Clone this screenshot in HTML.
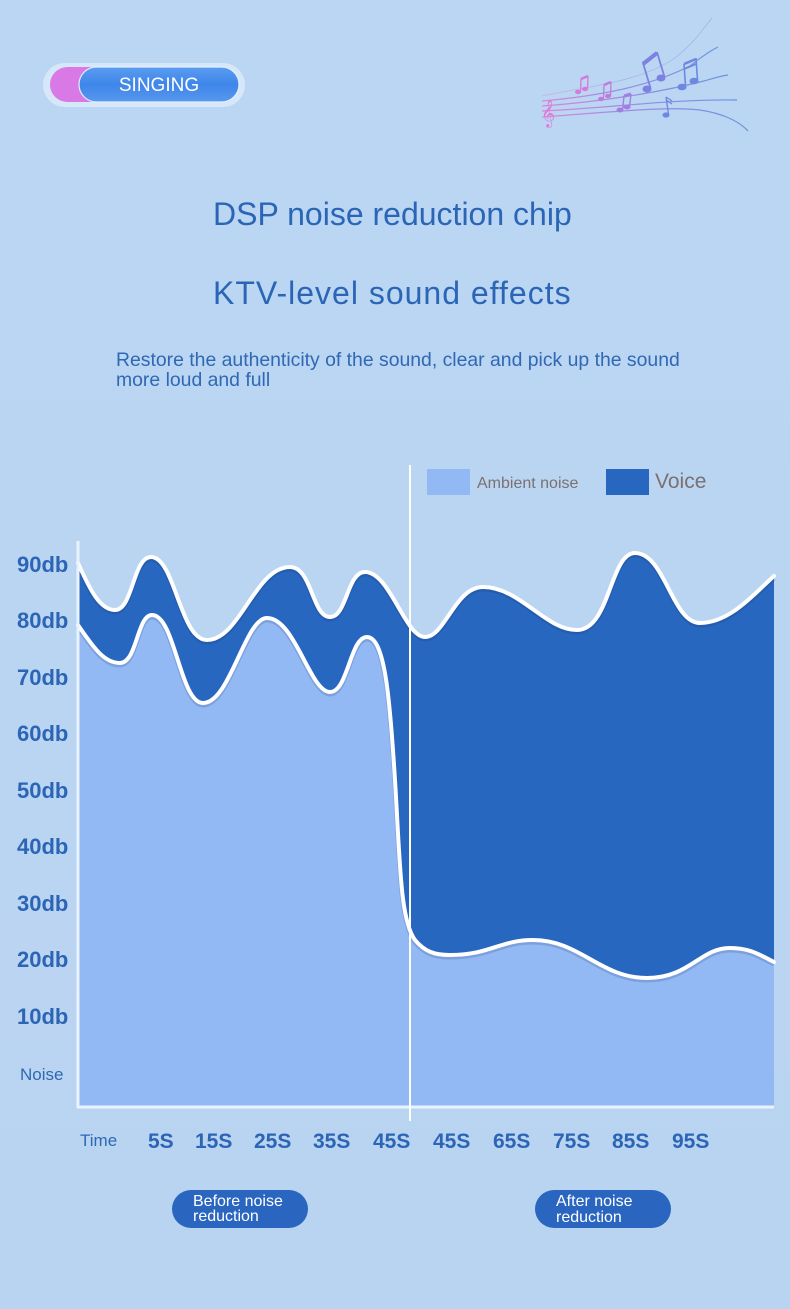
<!DOCTYPE html>
<html>
<head>
<meta charset="utf-8">
<style>
html,body{margin:0;padding:0;}
body{width:790px;height:1309px;background:#bad5f1;overflow:hidden;}
svg{display:block;}
text{font-family:"Liberation Sans",sans-serif;}
</style>
</head>
<body>
<svg width="790" height="1309" viewBox="0 0 790 1309" xmlns="http://www.w3.org/2000/svg">
  <defs>
    <linearGradient id="bg" x1="0" y1="0" x2="0" y2="1">
      <stop offset="0" stop-color="#bbd6f2"/>
      <stop offset="1" stop-color="#b9d4f1"/>
    </linearGradient>
    <linearGradient id="pillBlue" x1="0" y1="0" x2="0" y2="1">
      <stop offset="0" stop-color="#5a9cf0"/>
      <stop offset="0.5" stop-color="#3f86ea"/>
      <stop offset="1" stop-color="#5797ee"/>
    </linearGradient>
    <linearGradient id="music" x1="0" y1="0" x2="1" y2="0">
      <stop offset="0" stop-color="#e07ad8"/>
      <stop offset="0.45" stop-color="#9a7ee0"/>
      <stop offset="1" stop-color="#5d86dc"/>
    </linearGradient>
  </defs>

  <rect x="0" y="0" width="790" height="1309" fill="url(#bg)"/>

  <!-- SINGING pill -->
  <rect x="43" y="63" width="202" height="44" rx="22" fill="#d6e7f9"/>
  <rect x="50" y="67" width="70" height="35" rx="17.5" fill="#d979e6"/>
  <rect x="79" y="67" width="160" height="35" rx="17.5" fill="url(#pillBlue)" stroke="#e3efff" stroke-width="1.2"/>
  <text x="159" y="91" font-size="19" fill="#ffffff" text-anchor="middle">SINGING</text>

  <!-- music decoration -->
  <g fill="none" stroke="url(#music)" stroke-width="1.2" opacity="0.85">
    <path d="M542,96 C590,86 640,82 675,58 C695,42 702,30 712,18" stroke-width="0.7" opacity="0.5"/>
    <path d="M542,101 C600,96 650,86 690,66 C700,58 708,52 718,47"/>
    <path d="M542,106 C600,102 660,92 700,82 C712,79 720,76 728,75"/>
    <path d="M542,111 C610,108 670,99 737,100"/>
    <path d="M542,117 C610,112 670,106 700,110 C720,113 738,120 748,131"/>
  </g>
  <text x="541" y="121" font-size="24" fill="#e07ad8" font-family="DejaVu Sans, sans-serif">&#x1D11E;</text>
  <!-- pink small notes -->
  <g fill="#d47ad9" stroke="#d47ad9">
    <ellipse cx="578" cy="92" rx="3" ry="2.2" stroke="none"/>
    <ellipse cx="585" cy="89" rx="3" ry="2.2" stroke="none"/>
    <line x1="580.5" y1="92" x2="581" y2="79" stroke-width="1.3"/>
    <line x1="587.5" y1="89" x2="588" y2="76" stroke-width="1.3"/>
    <line x1="581" y1="79" x2="588" y2="76" stroke-width="2.5"/>
  </g>
  <g fill="#bf7cdc" stroke="#bf7cdc">
    <ellipse cx="601" cy="99" rx="3" ry="2.2" stroke="none"/>
    <ellipse cx="608" cy="96" rx="3" ry="2.2" stroke="none"/>
    <line x1="603.5" y1="99" x2="604" y2="85" stroke-width="1.3"/>
    <line x1="610.5" y1="96" x2="611" y2="82" stroke-width="1.3"/>
    <line x1="604" y1="85" x2="611" y2="82" stroke-width="2.5"/>
  </g>
  <g fill="#a07fe0" stroke="#a07fe0">
    <ellipse cx="620" cy="110" rx="3.5" ry="2.5" stroke="none"/>
    <ellipse cx="627" cy="107" rx="3.5" ry="2.5" stroke="none"/>
    <line x1="622.5" y1="110" x2="624" y2="96" stroke-width="1.4"/>
    <line x1="629.5" y1="107" x2="631" y2="94" stroke-width="1.4"/>
    <line x1="624" y1="96" x2="631" y2="94" stroke-width="3"/>
  </g>
  <!-- big notes -->
  <g fill="#7d82e2" stroke="#7d82e2">
    <ellipse cx="647" cy="89" rx="4.5" ry="3.5" stroke="none"/>
    <ellipse cx="661" cy="78" rx="4.5" ry="3.5" stroke="none"/>
    <line x1="650.5" y1="88" x2="643" y2="63" stroke-width="1.8"/>
    <line x1="664.5" y1="77" x2="657" y2="52" stroke-width="1.8"/>
    <line x1="643" y1="64" x2="657" y2="53" stroke-width="4"/>
  </g>
  <g fill="#6c88e0" stroke="#6c88e0">
    <ellipse cx="682" cy="87" rx="4.5" ry="3.3" stroke="none"/>
    <ellipse cx="694" cy="81" rx="4.5" ry="3.3" stroke="none"/>
    <line x1="685.5" y1="86" x2="684" y2="64" stroke-width="1.6"/>
    <line x1="697.5" y1="80" x2="696" y2="58" stroke-width="1.6"/>
    <line x1="684" y1="64" x2="696" y2="59" stroke-width="2.5"/>
    <line x1="684" y1="69" x2="696" y2="64" stroke-width="2"/>
    <ellipse cx="666" cy="115" rx="3.5" ry="2.6" stroke="none"/>
    <line x1="668.5" y1="114" x2="666" y2="97" stroke-width="1.3"/>
    <path d="M666,97 L672,101 M666,100 L672,104" stroke-width="1.3" fill="none"/>
  </g>

  <!-- Titles -->
  <text x="213" y="225" font-size="32" fill="#2b66b6">DSP noise reduction chip</text>
  <text x="213" y="304" font-size="32" fill="#2b66b6" letter-spacing="1">KTV-level sound effects</text>
  <text x="116" y="366" font-size="19.4" fill="#2f68b4">Restore the authenticity of the sound, clear and pick up the sound</text>
  <text x="116" y="386" font-size="19.4" fill="#2f68b4">more loud and full</text>

  <!-- Legend -->
  <rect x="427" y="469" width="43" height="26" fill="#92b9f3"/>
  <text x="477" y="488" font-size="16" fill="#7c7070">Ambient noise</text>
  <rect x="606" y="469" width="43" height="26" fill="#2867bf"/>
  <text x="655" y="488" font-size="21" fill="#7c7070">Voice</text>

  <!-- Chart fills -->
  <path d="M78,563 C90,590 100,610 115,610 C133,610 133,557 151,557 C175,557 180,640 207,640 C240,640 255,567 290,567 C312,567 312,617 330,617 C347,617 347,572 365,572 C390,572 405,637 425,637 C445,637 455,587 483,587 C520,587 545,630 577,630 C610,630 610,553 635,553 C665,553 672,623 700,623 C730,623 755,593 774,576 L774,1107 L78,1107 Z" fill="#2867bf"/>
  <path d="M78,625 C95,650 105,663 120,663 C137,663 137,615 152,615 C175,615 180,703 203,703 C230,703 245,618 267,618 C295,618 310,692 330,692 C348,692 350,637 367,637 C385,637 390,700 395,780 C400,860 400,920 415,940 C425,952 435,955 450,955 C490,955 500,940 533,940 C580,940 600,978 647,978 C690,978 700,948 730,948 C750,948 760,955 774,962 L774,1107 L78,1107 Z" fill="#92b9f3"/>

  <!-- curve shadows -->
  <g fill="none" stroke="rgba(20,50,110,0.18)" stroke-width="5" transform="translate(0,2)">
    <path d="M78,563 C90,590 100,610 115,610 C133,610 133,557 151,557 C175,557 180,640 207,640 C240,640 255,567 290,567 C312,567 312,617 330,617 C347,617 347,572 365,572 C390,572 405,637 425,637 C445,637 455,587 483,587 C520,587 545,630 577,630 C610,630 610,553 635,553 C665,553 672,623 700,623 C730,623 755,593 774,576"/>
    <path d="M78,625 C95,650 105,663 120,663 C137,663 137,615 152,615 C175,615 180,703 203,703 C230,703 245,618 267,618 C295,618 310,692 330,692 C348,692 350,637 367,637 C385,637 390,700 395,780 C400,860 400,920 415,940 C425,952 435,955 450,955 C490,955 500,940 533,940 C580,940 600,978 647,978 C690,978 700,948 730,948 C750,948 760,955 774,962"/>
  </g>
  <!-- white curves -->
  <g fill="none" stroke="#ffffff" stroke-width="4" stroke-linecap="round">
    <path d="M78,563 C90,590 100,610 115,610 C133,610 133,557 151,557 C175,557 180,640 207,640 C240,640 255,567 290,567 C312,567 312,617 330,617 C347,617 347,572 365,572 C390,572 405,637 425,637 C445,637 455,587 483,587 C520,587 545,630 577,630 C610,630 610,553 635,553 C665,553 672,623 700,623 C730,623 755,593 774,576"/>
    <path d="M78,625 C95,650 105,663 120,663 C137,663 137,615 152,615 C175,615 180,703 203,703 C230,703 245,618 267,618 C295,618 310,692 330,692 C348,692 350,637 367,637 C385,637 390,700 395,780 C400,860 400,920 415,940 C425,952 435,955 450,955 C490,955 500,940 533,940 C580,940 600,978 647,978 C690,978 700,948 730,948 C750,948 760,955 774,962"/>
  </g>

  <!-- axes -->
  <line x1="78" y1="541" x2="78" y2="1108" stroke="#eaf3fd" stroke-width="3"/>
  <line x1="77" y1="1107" x2="774" y2="1107" stroke="#eaf3fd" stroke-width="3"/>
  <line x1="410" y1="465" x2="410" y2="1121" stroke="#ffffff" stroke-width="2"/>

  <!-- Y labels -->
  <g font-size="22" font-weight="bold" fill="#2c64b6">
    <text x="17" y="572">90db</text>
    <text x="17" y="628">80db</text>
    <text x="17" y="685">70db</text>
    <text x="17" y="741">60db</text>
    <text x="17" y="798">50db</text>
    <text x="17" y="854">40db</text>
    <text x="17" y="911">30db</text>
    <text x="17" y="967">20db</text>
    <text x="17" y="1024">10db</text>
  </g>
  <text x="20" y="1080" font-size="17" fill="#2f68b4">Noise</text>

  <!-- X labels -->
  <text x="80" y="1146" font-size="17" fill="#2f68b4">Time</text>
  <g font-size="21" font-weight="bold" fill="#2c64b6">
    <text x="148" y="1148">5S</text>
    <text x="195" y="1148">15S</text>
    <text x="254" y="1148">25S</text>
    <text x="313" y="1148">35S</text>
    <text x="373" y="1148">45S</text>
    <text x="433" y="1148">45S</text>
    <text x="493" y="1148">65S</text>
    <text x="553" y="1148">75S</text>
    <text x="612" y="1148">85S</text>
    <text x="672" y="1148">95S</text>
  </g>

  <!-- buttons -->
  <rect x="172" y="1190" width="136" height="38" rx="19" fill="#2a66c0"/>
  <text x="193" y="1206" font-size="16" fill="#ffffff">Before noise</text>
  <text x="193" y="1221" font-size="16" fill="#ffffff">reduction</text>
  <rect x="535" y="1190" width="136" height="38" rx="19" fill="#2a66c0"/>
  <text x="556" y="1206" font-size="16" fill="#ffffff">After noise</text>
  <text x="556" y="1222" font-size="16" fill="#ffffff">reduction</text>
</svg>
</body>
</html>
